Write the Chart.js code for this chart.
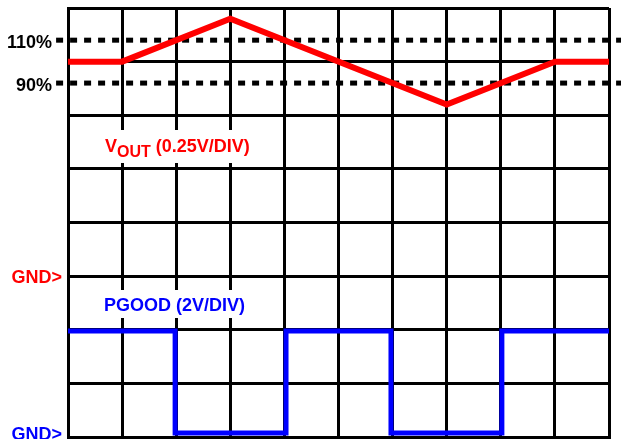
<!DOCTYPE html>
<html>
<head>
<meta charset="utf-8">
<script src="https://cdn.jsdelivr.net/npm/chart.js@4.4.0/dist/chart.umd.min.js"></script>
<style>
  html, body { margin: 0; padding: 0; background: #fff; }
  #wrap { width: 621px; height: 439px; }
</style>
</head>
<body>
<div id="wrap"><canvas id="scope" width="621" height="439"></canvas></div>
<script>
// time in divisions, voltages in volts
const voutTime = [0, 1, 3, 7, 9, 10];
const voutVolts = [1.0, 1.0, 1.2, 0.8, 1.0, 1.0];
const pgoodTime = [0, 1.98, 4.03, 5.97, 8.02, 10];
const pgoodVolts = [3.95, 0.15, 3.95, 0.15, 3.95, 3.95];
const thresholdVolts = [1.1, 0.9];
const thresholdLabels = ['110%', '90%'];
const thresholdSpan = [-0.22, 10.25];

const RED = '#ff0000';
const BLUE = '#0000ff';

const pts = (xs, ys) => xs.map((x, i) => ({ x: x, y: ys[i] }));

// text labels, white box behind the channel names
const scopeLabels = {
  id: 'scopeLabels',
  afterDraw(chart) {
    const ctx = chart.ctx;
    const area = chart.chartArea;
    const yV = chart.scales.y;
    const yP = chart.scales.yP;
    ctx.save();
    ctx.font = 'bold 18px "Liberation Sans", Arial, sans-serif';
    ctx.textBaseline = 'alphabetic';

    ctx.textAlign = 'right';
    ctx.fillStyle = '#000';
    thresholdVolts.forEach((v, i) => {
      ctx.fillText(thresholdLabels[i], area.left - 16, yV.getPixelForValue(v) + 8);
    });
    ctx.fillStyle = RED;
    ctx.fillText('GND>', area.left - 6, yV.getPixelForValue(0) + 7);
    ctx.fillStyle = BLUE;
    ctx.fillText('GND>', area.left - 6, yP.getPixelForValue(0) + 3);

    // channel names
    ctx.textAlign = 'left';
    ctx.fillStyle = '#fff';
    ctx.fillRect(area.left + 31, 130, 160, 33);
    ctx.fillRect(area.left + 31, 290, 160, 28);

    let x = area.left + 37;
    ctx.fillStyle = RED;
    ctx.fillText('V', x, 152);
    x += ctx.measureText('V').width;
    ctx.font = 'bold 16px "Liberation Sans", Arial, sans-serif';
    ctx.fillText('OUT', x, 157);
    x += ctx.measureText('OUT').width;
    ctx.font = 'bold 18px "Liberation Sans", Arial, sans-serif';
    ctx.fillText(' (0.25V/DIV)', x, 152);

    ctx.fillStyle = BLUE;
    ctx.fillText('PGOOD (2V/DIV)', area.left + 36, 311);
    ctx.restore();
  }
};

new Chart(document.getElementById('scope'), {
  type: 'line',
  data: {
    datasets: [
      {
        data: pts(voutTime, voutVolts),
        yAxisID: 'y',
        borderColor: RED,
        borderWidth: 6,
        pointRadius: 0,
        tension: 0
      },
      {
        data: pts(pgoodTime, pgoodVolts),
        yAxisID: 'yP',
        borderColor: BLUE,
        borderWidth: 5,
        pointRadius: 0,
        stepped: 'before'
      },
      ...thresholdVolts.map(v => ({
        data: pts(thresholdSpan, [v, v]),
        yAxisID: 'y',
        borderColor: '#000',
        borderWidth: 5,
        borderDash: [7, 7],
        borderCapStyle: 'butt',
        pointRadius: 0,
        clip: false
      }))
    ]
  },
  options: {
    responsive: false,
    animation: false,
    devicePixelRatio: 1,
    layout: { padding: { left: 68, right: 12, top: 8, bottom: 2 } },
    plugins: { legend: { display: false }, tooltip: { enabled: false } },
    scales: {
      x: {
        type: 'linear', min: 0, max: 10,
        ticks: { display: false, stepSize: 1 },
        grid: { color: '#000', lineWidth: 3, drawTicks: false },
        border: { color: '#000', width: 3 }
      },
      y: {
        type: 'linear', min: -0.75, max: 1.25,
        ticks: { display: false, stepSize: 0.25 },
        grid: { color: '#000', lineWidth: 3, drawTicks: false },
        border: { color: '#000', width: 3 }
      },
      yP: {
        type: 'linear', min: 0, max: 16, display: false
      }
    }
  },
  plugins: [scopeLabels]
});
</script>
</body>
</html>
